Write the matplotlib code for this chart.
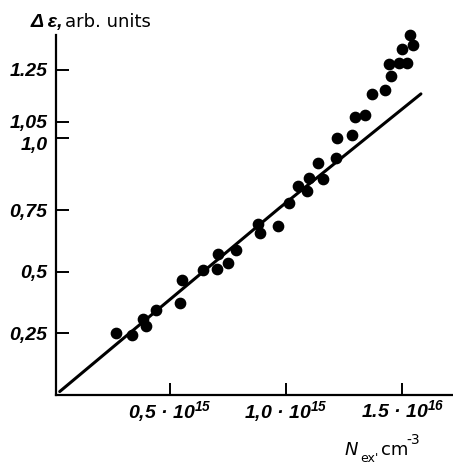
import matplotlib
matplotlib.use("Agg")
import matplotlib.pyplot as plt
import matplotlib.transforms as mtransforms

# dados (N_ex em 1e15 cm^-3, delta epsilon em unidades arbitrarias)
n_ex = [0.270, 0.339, 0.385, 0.398, 0.440, 0.543, 0.553, 0.643, 0.708, 0.704,
        0.751, 0.783, 0.880, 0.887, 0.966, 1.013, 1.049, 1.090, 1.099, 1.160,
        1.138, 1.214, 1.217, 1.283, 1.295, 1.341, 1.371, 1.425, 1.450, 1.443,
        1.484, 1.522, 1.498, 1.544, 1.533]
d_eps = [0.251, 0.245, 0.310, 0.278, 0.343, 0.375, 0.465, 0.506, 0.571, 0.512,
         0.535, 0.587, 0.696, 0.658, 0.685, 0.780, 0.848, 0.826, 0.879, 0.876,
         0.942, 0.963, 1.044, 1.054, 1.128, 1.137, 1.223, 1.238, 1.295, 1.343,
         1.346, 1.348, 1.403, 1.422, 1.461]

# reta ajustada
fit_x = [0.026, 0.97, 1.58]
fit_y = [0.014, 0.758, 1.222]

# marcas dos eixos (posicoes como aparecem na figura original)
xtick_pos = [0.5, 1.0, 1.5]
xtick_lab = ['0,5 · 10$^{15}$', '1,0 · 10$^{15}$', '1.5 · 10$^{16}$']
ytick_pos = [0.25, 0.5, 0.75, 1.043, 1.108, 1.319]
ytick_lab = ['0,25', '0,5', '0,75', '1,0', '1,05', '1.25']

plt.rcParams['mathtext.fontset'] = 'custom'
plt.rcParams['mathtext.rm'] = 'Liberation Sans:bold:italic'
plt.rcParams['mathtext.it'] = 'Liberation Sans:bold:italic'
plt.rcParams['mathtext.bf'] = 'Liberation Sans:bold:italic'

W, H = 453, 465
fig = plt.figure(figsize=(W / 100, H / 100), dpi=100)
ax = fig.add_axes([56 / W, 70 / H, 397 / W, 360 / H])

ax.plot(fit_x, fit_y, c='black', lw=2.2, solid_capstyle='round')
ax.scatter(n_ex, d_eps, s=55, c='black', zorder=3, clip_on=False)

ax.set_xlim(0.01, 1.718)
ax.set_ylim(0, 1.461)

for s in ['top', 'right']:
    ax.spines[s].set_visible(False)
for s in ['left', 'bottom']:
    ax.spines[s].set_linewidth(1.6)

lab_font = dict(family='Liberation Sans', weight='bold', style='italic', fontsize=14)
ax.set_xticks(xtick_pos)
ax.set_xticklabels(xtick_lab, **lab_font)
ax.set_yticks(ytick_pos)
ax.set_yticklabels(ytick_lab, **lab_font)
ax.tick_params(direction='in', length=9, width=1.4, pad=6)
ax.tick_params(axis='x', pad=3)

# o rotulo "1,0" fica um pouco abaixo da sua marca no original
lbl = ax.get_yticklabels()[3]
lbl.set_transform(lbl.get_transform() + mtransforms.ScaledTranslation(0, -4 / 72, fig.dpi_scale_trans))

# titulo do eixo y
fig.text(31 / W, 1 - 27 / H, 'Δ ε,', fontsize=14, family='Liberation Sans',
         weight='bold', style='italic', va='baseline')
fig.text(65 / W, 1 - 27 / H, 'arb. units', fontsize=13, family='DejaVu Sans', va='baseline')

# titulo do eixo x
fig.text(345 / W, 1 - 455 / H, 'N', fontsize=13, style='italic', family='DejaVu Sans', va='baseline')
fig.text(360 / W, 1 - 462 / H, "ex'", fontsize=9, family='DejaVu Sans', va='baseline')
fig.text(381 / W, 1 - 455 / H, 'cm', fontsize=13, family='DejaVu Sans', va='baseline')
fig.text(406 / W, 1 - 444 / H, '-3', fontsize=10, family='DejaVu Sans', va='baseline')

plt.savefig('out.png', dpi=100)
